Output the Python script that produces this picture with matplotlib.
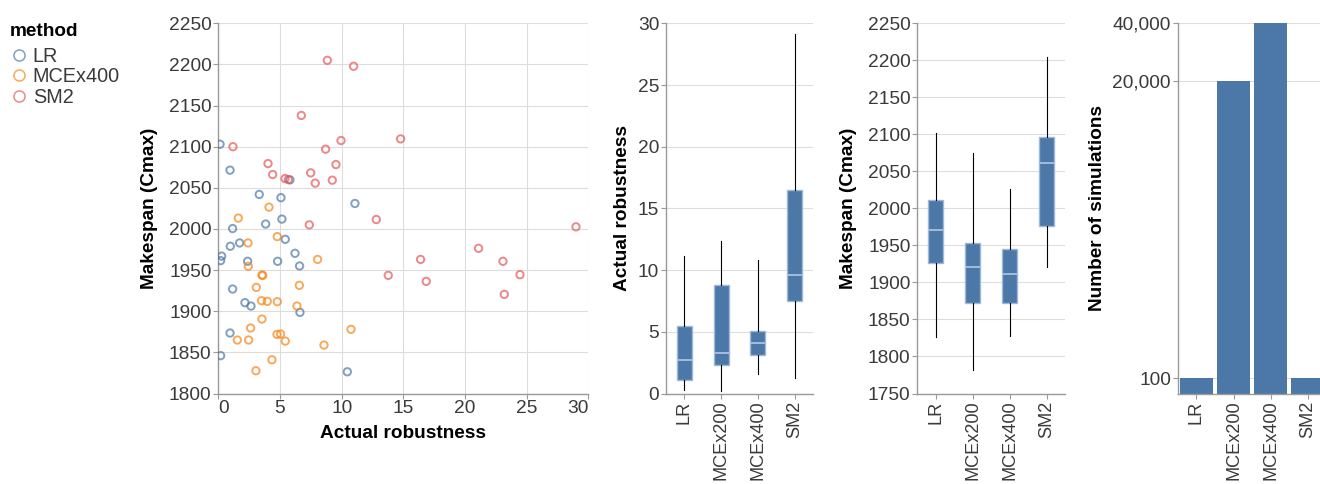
import numpy as np
import matplotlib
matplotlib.use("Agg")
import matplotlib.pyplot as plt
from matplotlib.lines import Line2D
from matplotlib.ticker import FuncFormatter

plt.rcParams['font.family'] = ['Liberation Sans', 'DejaVu Sans']

# --- scatter data (Actual robustness, Makespan) per method ---
lr_rob = [0.14, 0.95, 5.81, 3.32, 5.08, 11.08, 5.16, 3.84, 1.16, 0.97, 1.73, 5.43, 0.27,
          0.19, 2.38, 4.81, 6.22, 6.59, 1.16, 2.16, 2.65, 6.62, 0.95, 0.19, 10.46]
lr_mk = [2103, 2071.5, 2059.7, 2042, 2038, 2031, 2012, 2006, 2000.5, 1979, 1983, 1987.4, 1967,
         1961.5, 1960.7, 1960.7, 1970.4, 1955, 1927, 1910.4, 1906.3, 1898.6, 1873.5, 1846, 1826.4]

mce_rob = [4.11, 1.62, 4.78, 2.41, 2.43, 3.54, 3.60, 8.05, 6.57, 3.08, 3.51, 3.97, 4.78,
           6.38, 3.54, 2.62, 10.76, 4.76, 5.05, 1.54, 2.46, 5.43, 8.57, 4.35, 3.05]
mce_mk = [2026.5, 2013.2, 1990.7, 1983, 1954.6, 1944, 1943.5, 1963, 1931.5, 1929, 1912.8, 1912,
          1911.6, 1906.3, 1890.5, 1879.6, 1878, 1871.9, 1872.3, 1865, 1865, 1863.7, 1858.9, 1841, 1827.7]

sm2_rob = [8.84, 10.97, 6.73, 1.19, 9.95, 14.78, 8.70, 4.03, 9.54, 4.41, 7.49, 5.41, 5.68,
           7.86, 9.24, 12.81, 7.38, 29.0, 21.1, 16.4, 23.08, 13.78, 24.46, 16.86, 23.19]
sm2_mk = [2205, 2197.8, 2138, 2100, 2107.5, 2109.5, 2097, 2079.5, 2078.3, 2066.2, 2068.2, 2061.3,
          2060, 2055.7, 2059.3, 2011.5, 2005, 2002.6, 1976.5, 1963, 1960.7, 1943.6, 1944.4, 1936.3, 1920.5]

# --- boxplot summaries (all four methods) ---
box_methods = ['LR', 'MCEx200', 'MCEx400', 'SM2']
rob_lo = [0.27, 0.20, 1.62, 1.27]
rob_q1 = [1.08, 2.30, 3.11, 7.49]
rob_med = [2.70, 3.32, 4.10, 9.60]
rob_q3 = [5.49, 8.78, 5.08, 16.46]
rob_hi = [11.14, 12.35, 10.84, 29.10]

mk_lo = [1826.6, 1782.4, 1827.5, 1920.3]
mk_q1 = [1926.6, 1871.6, 1871.6, 1976.6]
mk_med = [1970.7, 1921.2, 1911.3, 2061.3]
mk_q3 = [2011.3, 1953.6, 1944.6, 2096.4]
mk_hi = [2102.3, 2074.3, 2025.7, 2204.0]

# --- simulation counts ---
sim_counts = [100, 20000, 40000, 100]

BLUE = '#4c78a8'
COLORS = {'LR': '#4c78a8', 'MCEx400': '#f58518', 'SM2': '#e45756'}
GRID = '#dddddd'
AXIS = '#999999'
TXT = '#3a3a3a'
TICK_FS = 13.8
BAND_FS = 13.1
TITLE_FS = 13.7

W, H = 1320, 484
fig = plt.figure(figsize=(W / 100, H / 100), dpi=100)


def px_axes(left, width, top=23.3, bottom=393.5):
    return fig.add_axes([left / W, (H - bottom) / H, width / W, (bottom - top) / H])


def style(ax, xgrid=False):
    for s in ['top', 'right']:
        ax.spines[s].set_visible(False)
    for s in ['left', 'bottom']:
        ax.spines[s].set_color(AXIS)
        ax.spines[s].set_linewidth(1.0)
    ax.tick_params(colors=AXIS, labelcolor=TXT, labelsize=TICK_FS, length=3.6, width=0.8, pad=1.3)
    ax.grid(True, axis='y', color=GRID, linewidth=0.8)
    if xgrid:
        ax.grid(True, axis='x', color=GRID, linewidth=0.8)
    ax.set_axisbelow(True)


# scatter
ax1 = px_axes(218.3, 370)
style(ax1, xgrid=True)
handles = []
for name, xs, ys in [('LR', lr_rob, lr_mk), ('MCEx400', mce_rob, mce_mk), ('SM2', sm2_rob, sm2_mk)]:
    ax1.scatter(xs, ys, s=28, facecolors='none', edgecolors=COLORS[name], linewidths=1.4, alpha=0.7, zorder=3)
    handles.append(Line2D([], [], marker='o', linestyle='none', markersize=8, markerfacecolor='none',
                          markeredgecolor=COLORS[name], markeredgewidth=1.1, alpha=0.7, label=name))
ax1.set_xlim(0, 30)
ax1.set_ylim(1800, 2250)
ax1.set_xticks(np.arange(0, 31, 5))
ax1.set_yticks(np.arange(1800, 2251, 50))
xl = ax1.get_xticklabels()
xl[0].set_horizontalalignment('left')
xl[-1].set_horizontalalignment('right')
ax1.set_xlabel('Actual robustness', fontsize=TITLE_FS, fontweight='bold', color='black', va='center')
ax1.xaxis.set_label_coords(0.5, -0.107)
ax1.set_ylabel('Makespan (Cmax)', fontsize=TITLE_FS, fontweight='bold', color='black', va='center')
ax1.yaxis.set_label_coords(-0.187, 0.5)

# legend: title as plain text, entries below it
fig.text(10 / W, 1 - 32 / H, 'method', fontsize=TITLE_FS, fontweight='bold', va='center', ha='left')
leg = fig.legend(handles=handles, loc='upper left', bbox_to_anchor=(9 / W, 1 - 47 / H), frameon=False,
                 fontsize=14.3, handletextpad=0.2, handlelength=1.0, labelspacing=0.07,
                 borderaxespad=0, borderpad=0)
for t in leg.get_texts():
    t.set_color(TXT)


def band_labels(ax):
    ax.set_xlim(-0.5, len(box_methods) - 0.5)
    ax.set_xticks(range(len(box_methods)))
    ax.set_xticklabels(box_methods, rotation=90, ha='center', va='top', fontsize=BAND_FS)


def boxes(ax, lo, q1, med, q3, hi):
    stats = [dict(whislo=lo[i], q1=q1[i], med=med[i], q3=q3[i], whishi=hi[i], label=box_methods[i])
             for i in range(len(box_methods))]
    ax.bxp(stats, positions=range(len(stats)), widths=0.41, patch_artist=True, showcaps=False,
           showfliers=False,
           boxprops=dict(facecolor=BLUE, edgecolor='#9db8d8', linewidth=1.0),
           medianprops=dict(color='#a9c2e0', linewidth=1.3),
           whiskerprops=dict(color='black', linewidth=0.8))
    band_labels(ax)


# robustness boxplot
ax2 = px_axes(666, 147)
style(ax2)
boxes(ax2, rob_lo, rob_q1, rob_med, rob_q3, rob_hi)
ax2.set_ylim(0, 30)
ax2.set_yticks(np.arange(0, 31, 5))
ax2.set_ylabel('Actual robustness', fontsize=TITLE_FS, fontweight='bold', color='black', va='center')
ax2.yaxis.set_label_coords(-0.296, 0.5)

# makespan boxplot
ax3 = px_axes(917.3, 148)
style(ax3)
boxes(ax3, mk_lo, mk_q1, mk_med, mk_q3, mk_hi)
ax3.set_ylim(1750, 2250)
ax3.set_yticks(np.arange(1750, 2251, 50))
ax3.set_ylabel('Makespan (Cmax)', fontsize=TITLE_FS, fontweight='bold', color='black', va='center')
ax3.yaxis.set_label_coords(-0.465, 0.5)

# simulation counts, symlog-like scale (log1p with constant 500)
ax4 = px_axes(1177.7, 148.8)
style(ax4)
C = 500.0
ax4.set_yscale('function', functions=(lambda v: np.sign(v) * np.log1p(np.abs(v) / C),
                                      lambda y: np.sign(y) * C * np.expm1(np.abs(y))))
ax4.bar(range(len(box_methods)), sim_counts, width=0.9, color=BLUE, edgecolor='none')
ax4.set_ylim(0, 40000)
ax4.set_yticks(sim_counts[:3])
ax4.yaxis.set_major_formatter(FuncFormatter(lambda v, p: f'{int(v):,}'))
ax4.yaxis.set_minor_locator(plt.NullLocator())
band_labels(ax4)
ax4.set_ylabel('Number of simulations', fontsize=TITLE_FS, fontweight='bold', color='black', va='center')
ax4.yaxis.set_label_coords(-0.539, 0.5)

fig.savefig('out.png', dpi=100)
